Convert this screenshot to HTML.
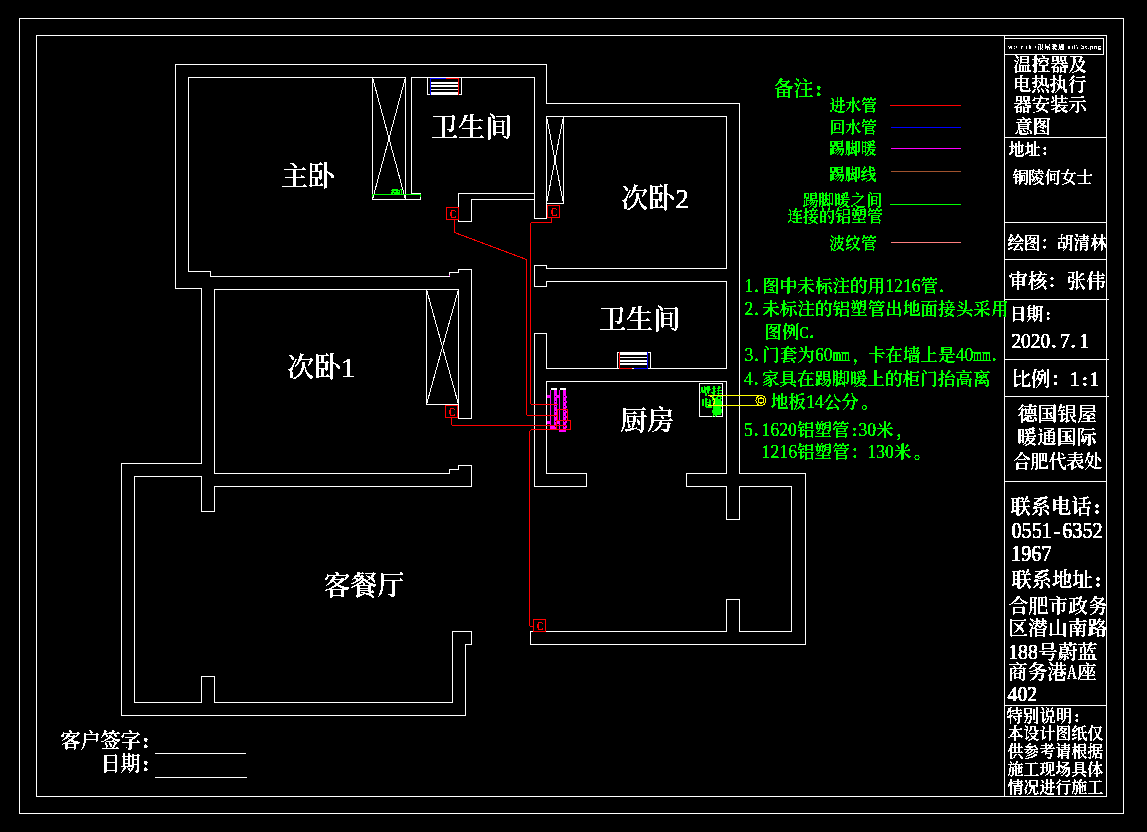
<!DOCTYPE html>
<html lang="zh"><head><meta charset="utf-8"><title>温控器及电热执行器安装示意图</title>
<style>
html,body{margin:0;padding:0;background:#000;overflow:hidden}
svg{display:block}
svg polyline,svg polygon{fill:none;stroke-width:1;stroke-linecap:square}
svg text{font-family:"Liberation Serif","Noto Serif CJK SC",serif;white-space:pre}
</style></head><body>
<svg width="1147" height="832" viewBox="0 0 1147 832" shape-rendering="crispEdges">
<rect x="0" y="0" width="1147" height="832" fill="#000"/>
<g fill="none" stroke-width="1">
<polygon points="19.5,18.5 1123.5,18.5 1123.5,813.5 19.5,813.5" stroke="#ffffff" />
<polygon points="36.5,35.5 1106.5,35.5 1106.5,796.5 36.5,796.5" stroke="#ffffff" />
<polyline points="411.5,77.5 534.5,77.5 534.5,218.5 546.5,218.5 546.5,116.5 726.5,116.5 726.5,268.5 546.5,268.5 546.5,265.5 534.5,265.5 534.5,286.5 546.5,286.5 546.5,281.5 726.5,281.5 726.5,368.5 546.5,368.5 546.5,333.5 534.5,333.5 534.5,486.5 586.5,486.5 586.5,473.5 546.5,473.5 546.5,381.5 726.5,381.5 726.5,473.5 686.5,473.5 686.5,486.5 726.5,486.5 726.5,519.5 739.5,519.5 739.5,486.5 791.5,486.5 791.5,631.5 739.5,631.5 739.5,599.5 726.5,599.5 726.5,631.5 530.5,631.5 530.5,644.5 805.5,644.5 805.5,473.5 739.5,473.5 739.5,103.5 546.5,103.5 546.5,64.5 175.5,64.5 175.5,288.5 201.5,288.5 201.5,463.5 121.5,463.5 121.5,715.5 465.5,715.5 465.5,644.5 471.5,644.5 471.5,631.5 452.5,631.5 452.5,702.5 214.5,702.5 214.5,676.5 201.5,676.5 201.5,702.5 134.5,702.5 134.5,476.5 201.5,476.5 201.5,511.5 214.5,511.5 214.5,486.5 471.5,486.5 471.5,465.5 458.5,465.5 458.5,469.5 449.5,469.5 449.5,473.5 214.5,473.5 214.5,289.5 458.5,289.5 458.5,418.5 471.5,418.5 471.5,269.5 458.5,269.5 458.5,272.5 449.5,272.5 449.5,276.5 210.5,276.5 210.5,271.5 188.5,271.5 188.5,77.5 405.5,77.5 405.5,199.5" stroke="#ffffff" />
<polyline points="411.5,77.5 411.5,193.5 420.5,193.5 420.5,199.5 372.5,199.5 372.5,77.5" stroke="#ffffff" />
<polyline points="534.5,193.5 458.5,193.5 458.5,221.5 471.5,221.5 471.5,199.5 534.5,199.5" stroke="#ffffff" />
<polyline points="372.5,77.5 405.5,199.5" stroke="#ffffff" />
<polyline points="405.5,77.5 372.5,199.5" stroke="#ffffff" />
<polyline points="563.5,116.5 563.5,203.5 546.5,203.5" stroke="#ffffff" />
<polyline points="546.5,116.5 563.5,203.5" stroke="#ffffff" />
<polyline points="563.5,116.5 546.5,203.5" stroke="#ffffff" />
<polyline points="426.5,289.5 426.5,404.5 458.5,404.5" stroke="#ffffff" />
<polyline points="426.5,289.5 458.5,404.5" stroke="#ffffff" />
<polyline points="458.5,289.5 426.5,404.5" stroke="#ffffff" />
<polyline points="372.5,196.5 372.5,194.5 420.5,194.5 420.5,196.5" stroke="#00ff00" />
<!--T880-->
<rect x="449" y="275" width="1" height="1" fill="#ff00ff" stroke="none"/>
<polyline points="427.5,77.5 427.5,94.5 461.5,94.5 461.5,77.5" stroke="#ffffff" />
<rect x="431" y="82" width="27" height="2" fill="#ffffff" stroke="none"/>
<rect x="431" y="85" width="27" height="2" fill="#ffffff" stroke="none"/>
<rect x="431" y="89" width="27" height="1" fill="#ffffff" stroke="none"/>
<rect x="431" y="92" width="27" height="3" fill="#ffffff" stroke="none"/>
<polyline points="430.5,78.5 430.5,94.5" stroke="#0000ff" />
<polyline points="458.5,78.5 458.5,94.5" stroke="#ff0000" />
<polyline points="431.5,78.5 445.5,78.5" stroke="#0000ff" />
<polyline points="446.5,78.5 458.5,78.5" stroke="#ff0000" />
<polyline points="617.5,368.5 617.5,352.5 650.5,352.5 650.5,368.5" stroke="#ffffff" />
<rect x="620" y="352" width="27" height="3" fill="#ffffff" stroke="none"/>
<rect x="620" y="357" width="27" height="1" fill="#ffffff" stroke="none"/>
<rect x="620" y="360" width="27" height="2" fill="#ffffff" stroke="none"/>
<rect x="620" y="363" width="27" height="2" fill="#ffffff" stroke="none"/>
<polyline points="619.5,352.5 619.5,368.5" stroke="#ff0000" />
<polyline points="647.5,352.5 647.5,368.5" stroke="#0000ff" />
<polyline points="619.5,368.5 631.5,368.5" stroke="#ff0000" />
<polyline points="634.5,368.5 647.5,368.5" stroke="#0000ff" />
<rect x="550" y="390" width="1" height="40" fill="#ff00ff" stroke="none"/>
<rect x="554" y="390" width="3" height="40" fill="#ff00ff" stroke="none"/>
<rect x="559" y="390" width="1" height="42" fill="#ff00ff" stroke="none"/>
<rect x="563" y="390" width="3" height="42" fill="#ff00ff" stroke="none"/>
<rect x="551" y="388" width="6" height="2" fill="#ffffff" stroke="none"/>
<rect x="560" y="388" width="6" height="2" fill="#ffffff" stroke="none"/>
<rect x="547" y="395" width="3" height="3" fill="#ff00ff" stroke="none"/>
<rect x="547" y="421" width="3" height="3" fill="#ff00ff" stroke="none"/>
<rect x="557" y="395" width="2" height="3" fill="#ff00ff" stroke="none"/>
<rect x="557" y="421" width="2" height="3" fill="#ff00ff" stroke="none"/>
<rect x="566" y="396" width="1" height="2" fill="#ff00ff" stroke="none"/>
<rect x="566" y="401" width="1" height="2" fill="#ff00ff" stroke="none"/>
<rect x="566" y="406" width="1" height="2" fill="#ff00ff" stroke="none"/>
<rect x="566" y="411" width="1" height="2" fill="#ff00ff" stroke="none"/>
<rect x="566" y="416" width="1" height="2" fill="#ff00ff" stroke="none"/>
<rect x="566" y="421" width="1" height="2" fill="#ff00ff" stroke="none"/>
<rect x="566" y="426" width="1" height="2" fill="#ff00ff" stroke="none"/>
<rect x="551" y="426" width="3" height="4" fill="#ff00ff" stroke="none"/>
<rect x="560" y="429" width="3" height="3" fill="#ff00ff" stroke="none"/>
<rect x="555" y="396" width="1" height="1" fill="#000" stroke="none"/>
<rect x="564" y="396" width="1" height="1" fill="#000" stroke="none"/>
<rect x="555" y="401" width="1" height="1" fill="#000" stroke="none"/>
<rect x="564" y="401" width="1" height="1" fill="#000" stroke="none"/>
<rect x="555" y="406" width="1" height="1" fill="#000" stroke="none"/>
<rect x="564" y="406" width="1" height="1" fill="#000" stroke="none"/>
<rect x="555" y="411" width="1" height="1" fill="#000" stroke="none"/>
<rect x="564" y="411" width="1" height="1" fill="#000" stroke="none"/>
<rect x="555" y="416" width="1" height="1" fill="#000" stroke="none"/>
<rect x="564" y="416" width="1" height="1" fill="#000" stroke="none"/>
<rect x="555" y="421" width="1" height="1" fill="#000" stroke="none"/>
<rect x="564" y="421" width="1" height="1" fill="#000" stroke="none"/>
<rect x="555" y="426" width="1" height="1" fill="#000" stroke="none"/>
<rect x="564" y="426" width="1" height="1" fill="#000" stroke="none"/>
<rect x="699.5" y="383.5" width="23" height="33" rx="1" ry="1" stroke="#fff" fill="none"/>
<rect x="714" y="399" width="7" height="16" fill="#00ff00" stroke="none"/>
<!--TBOILER-->

<polyline points="454.5,219.5 454.5,232.5 526.5,259.5 526.5,414.5 527.5,415.5 556.5,415.5" stroke="#ff0000" />
<polyline points="551.5,217.5 551.5,222.5 531.5,222.5 530.5,223.5 530.5,403.5 531.5,404.5 557.5,404.5" stroke="#ff0000" />
<polyline points="451.5,417.5 451.5,424.5 452.5,425.5 566.5,425.5" stroke="#ff0000" />
<polyline points="570.5,429.5 531.5,429.5 529.5,431.5 529.5,625.5 530.5,626.5 533.5,626.5" stroke="#ff0000" />
<polygon points="557.5,409.5 567.5,409.5 567.5,420.5 557.5,420.5" stroke="#ff0000" />
<polygon points="556.5,420.5 570.5,420.5 570.5,429.5 556.5,429.5" stroke="#ff0000" />
<polygon points="446.5,207.5 458.5,207.5 458.5,219.5 446.5,219.5" stroke="#ff0000" />
<polygon points="547.5,205.5 559.5,205.5 559.5,217.5 547.5,217.5" stroke="#ff0000" />
<polygon points="445.5,405.5 457.5,405.5 457.5,417.5 445.5,417.5" stroke="#ff0000" />
<polygon points="533.5,619.5 545.5,619.5 545.5,631.5 533.5,631.5" stroke="#ff0000" />
<polyline points="890.5,105.5 960.5,105.5" stroke="#ff0000" />
<polyline points="891.5,127.5 960.5,127.5" stroke="#0000ff" />
<polyline points="891.5,148.5 960.5,148.5" stroke="#ff00ff" />
<polyline points="891.5,171.5 960.5,171.5" stroke="#a0522d" />
<polyline points="890.5,204.5 960.5,204.5" stroke="#00ff00" />
<polyline points="891.5,242.5 960.5,242.5" stroke="#ff7f7f" />
<polyline points="1004.5,35.5 1004.5,796.5" stroke="#ffffff" />
<polyline points="1004.5,137.5 1106.5,137.5" stroke="#ffffff" />
<polyline points="1004.5,222.5 1106.5,222.5" stroke="#ffffff" />
<polyline points="1004.5,259.5 1106.5,259.5" stroke="#ffffff" />
<polyline points="1004.5,299.5 1108.5,299.5" stroke="#ffffff" />
<polyline points="1004.5,359.5 1108.5,359.5" stroke="#ffffff" />
<polyline points="1004.5,396.5 1108.5,396.5" stroke="#ffffff" />
<polyline points="1004.5,481.5 1106.5,481.5" stroke="#ffffff" />
<polyline points="1004.5,705.5 1106.5,705.5" stroke="#ffffff" />
<polygon points="1004.5,38.5 1103.5,38.5 1103.5,54.5 1004.5,54.5" stroke="#ffffff" />
<polyline points="155.5,753.5 245.5,753.5" stroke="#ffffff" />
<polyline points="155.5,777.5 246.5,777.5" stroke="#ffffff" />
</g>
<defs><filter id="th" x="0" y="0" width="1147" height="832" filterUnits="userSpaceOnUse" color-interpolation-filters="sRGB"><feComponentTransfer><feFuncA type="discrete" tableValues="0 1 1"/></feComponentTransfer></filter></defs>
<g filter="url(#th)">
<text id="t0" x="281.06 308.06" y="186.49" font-size="27.00" fill="#ffffff" font-weight="500">主卧</text>
<text id="t1" x="431.19 458.19 485.19" y="137.36" font-size="27.00" fill="#ffffff" font-weight="500">卫生间</text>
<text id="t2" x="621.19 648.19 675.19" y="208.11" font-size="27.00" fill="#ffffff" font-weight="500">次卧<tspan font-weight="400" stroke="#ffffff" stroke-width="0.25">2</tspan></text>
<text id="t3" x="287.19 314.19 341.19" y="377.11" font-size="27.00" fill="#ffffff" font-weight="500">次卧<tspan font-weight="400" stroke="#ffffff" stroke-width="0.25">1</tspan></text>
<text id="t4" x="599.19 626.19 653.19" y="329.36" font-size="27.00" fill="#ffffff" font-weight="500">卫生间</text>
<text id="t5" x="620.32 647.32" y="429.61" font-size="27.00" fill="#ffffff" font-weight="500">厨房</text>
<text id="t6" x="323.44 350.44 377.44" y="594.61" font-size="27.00" fill="#ffffff" font-weight="500">客餐厅</text>
<text id="t7" x="60.40 80.40 100.40 120.40 142.62" y="748.48" font-size="20.00" fill="#ffffff" font-weight="600">客户签字:</text>
<text id="t8" x="100.40 120.40 142.62" y="770.98" font-size="20.00" fill="#ffffff" font-weight="600">日期:</text>
<text id="t9" x="1013.32 1031.72 1050.12 1068.52" y="70.96" font-size="18.40" fill="#ffffff" font-weight="600">温控器及</text>
<text id="t10" x="1012.82 1031.22 1049.62 1068.02" y="90.96" font-size="18.40" fill="#ffffff" font-weight="600">电热执行</text>
<text id="t11" x="1013.32 1031.72 1050.12 1068.52" y="111.46" font-size="18.40" fill="#ffffff" font-weight="600">器安装示</text>
<text id="t12" x="1014.45 1032.85" y="132.84" font-size="18.40" fill="#ffffff" font-weight="600">意图</text>
<text id="t13" x="1008.52 1024.52 1042.30" y="154.75" font-size="16.00" fill="#ffffff" font-weight="600">地址:</text>
<text id="t14" x="1012.39 1028.49 1044.59 1060.69 1076.79" y="183.00" font-size="16.10" fill="#ffffff" font-weight="600">铜陵何女士</text>
<text id="t15" x="1007.38 1023.93 1040.48 1057.03 1073.58 1090.13" y="249.47" font-size="16.55" fill="#ffffff" font-weight="600">绘图：胡清林</text>
<text id="t16" x="1008.54 1027.94 1047.34 1066.74 1086.14" y="288.14" font-size="19.40" fill="#ffffff" font-weight="600">审核：张伟</text>
<text id="t17" x="1009.49 1026.49 1045.38" y="319.81" font-size="17.00" fill="#ffffff" font-weight="600">日期:</text>
<text id="t18" x="1011.42 1021.12 1030.82 1040.52 1051.38 1059.92 1070.78 1079.32" y="348.14" font-size="19.40" fill="#ffffff" font-weight="600"><tspan font-weight="400" stroke="#ffffff" stroke-width="0.25" font-size="21.53" textLength="9.70" lengthAdjust="spacingAndGlyphs">2</tspan><tspan font-weight="400" stroke="#ffffff" stroke-width="0.25" font-size="21.53" textLength="9.70" lengthAdjust="spacingAndGlyphs">0</tspan><tspan font-weight="400" stroke="#ffffff" stroke-width="0.25" font-size="21.53" textLength="9.70" lengthAdjust="spacingAndGlyphs">2</tspan><tspan font-weight="400" stroke="#ffffff" stroke-width="0.25" font-size="21.53" textLength="9.70" lengthAdjust="spacingAndGlyphs">0</tspan>.<tspan font-weight="400" stroke="#ffffff" stroke-width="0.25" font-size="21.53" textLength="9.70" lengthAdjust="spacingAndGlyphs">7</tspan>.<tspan font-weight="400" stroke="#ffffff" stroke-width="0.25" font-size="21.53" textLength="9.70" lengthAdjust="spacingAndGlyphs">1</tspan></text>
<text id="t19" x="1011.41 1030.91 1050.41 1069.91 1081.83 1089.41" y="386.13" font-size="19.50" fill="#ffffff" font-weight="600">比例：<tspan font-weight="400" stroke="#ffffff" stroke-width="0.25" font-size="21.65" textLength="9.75" lengthAdjust="spacingAndGlyphs">1</tspan>:<tspan font-weight="400" stroke="#ffffff" stroke-width="0.25" font-size="21.65" textLength="9.75" lengthAdjust="spacingAndGlyphs">1</tspan></text>
<text id="t20" x="1017.65 1037.50 1057.35 1077.20" y="420.86" font-size="19.85" fill="#ffffff" font-weight="600">德国银屋</text>
<text id="t21" x="1017.15 1037.00 1056.85 1076.70" y="443.86" font-size="19.85" fill="#ffffff" font-weight="600">暖通国际</text>
<text id="t22" x="1012.96 1030.81 1048.66 1066.51 1084.36" y="467.50" font-size="17.85" fill="#ffffff" font-weight="600">合肥代表处</text>
<text id="t23" x="1010.39 1030.69 1050.99 1071.29 1093.84" y="514.33" font-size="20.30" fill="#ffffff" font-weight="600">联系电话:</text>
<text id="t24" x="1011.39 1021.54 1031.69 1041.84 1053.69 1062.14 1072.29 1082.44 1092.59" y="537.58" font-size="20.30" fill="#ffffff" font-weight="600"><tspan font-weight="400" stroke="#ffffff" stroke-width="0.25" font-size="22.53" textLength="10.15" lengthAdjust="spacingAndGlyphs">0</tspan><tspan font-weight="400" stroke="#ffffff" stroke-width="0.25" font-size="22.53" textLength="10.15" lengthAdjust="spacingAndGlyphs">5</tspan><tspan font-weight="400" stroke="#ffffff" stroke-width="0.25" font-size="22.53" textLength="10.15" lengthAdjust="spacingAndGlyphs">5</tspan><tspan font-weight="400" stroke="#ffffff" stroke-width="0.25" font-size="22.53" textLength="10.15" lengthAdjust="spacingAndGlyphs">1</tspan>-<tspan font-weight="400" stroke="#ffffff" stroke-width="0.25" font-size="22.53" textLength="10.15" lengthAdjust="spacingAndGlyphs">6</tspan><tspan font-weight="400" stroke="#ffffff" stroke-width="0.25" font-size="22.53" textLength="10.15" lengthAdjust="spacingAndGlyphs">3</tspan><tspan font-weight="400" stroke="#ffffff" stroke-width="0.25" font-size="22.53" textLength="10.15" lengthAdjust="spacingAndGlyphs">5</tspan><tspan font-weight="400" stroke="#ffffff" stroke-width="0.25" font-size="22.53" textLength="10.15" lengthAdjust="spacingAndGlyphs">2</tspan></text>
<text id="t25" x="1011.02 1021.17 1031.32 1041.47" y="561.33" font-size="20.30" fill="#ffffff" font-weight="600"><tspan font-weight="400" stroke="#ffffff" stroke-width="0.25" font-size="22.53" textLength="10.15" lengthAdjust="spacingAndGlyphs">1</tspan><tspan font-weight="400" stroke="#ffffff" stroke-width="0.25" font-size="22.53" textLength="10.15" lengthAdjust="spacingAndGlyphs">9</tspan><tspan font-weight="400" stroke="#ffffff" stroke-width="0.25" font-size="22.53" textLength="10.15" lengthAdjust="spacingAndGlyphs">6</tspan><tspan font-weight="400" stroke="#ffffff" stroke-width="0.25" font-size="22.53" textLength="10.15" lengthAdjust="spacingAndGlyphs">7</tspan></text>
<text id="t26" x="1011.39 1031.69 1051.99 1072.29 1094.84" y="586.58" font-size="20.30" fill="#ffffff" font-weight="600">联系地址:</text>
<text id="t27" x="1008.78 1028.58 1048.38 1068.18 1087.98" y="613.11" font-size="19.80" fill="#ffffff" font-weight="600">合肥市政务</text>
<text id="t28" x="1008.28 1028.08 1047.88 1067.68 1087.48" y="635.49" font-size="19.80" fill="#ffffff" font-weight="600">区潜山南路</text>
<text id="t29" x="1008.16 1018.06 1027.96 1037.86 1057.66 1077.46" y="658.61" font-size="19.80" fill="#ffffff" font-weight="600"><tspan font-weight="400" stroke="#ffffff" stroke-width="0.25" font-size="21.98" textLength="9.90" lengthAdjust="spacingAndGlyphs">1</tspan><tspan font-weight="400" stroke="#ffffff" stroke-width="0.25" font-size="21.98" textLength="9.90" lengthAdjust="spacingAndGlyphs">8</tspan><tspan font-weight="400" stroke="#ffffff" stroke-width="0.25" font-size="21.98" textLength="9.90" lengthAdjust="spacingAndGlyphs">8</tspan>号蔚蓝</text>
<text id="t30" x="1007.66 1027.46 1047.26 1067.06 1076.96" y="678.86" font-size="19.80" fill="#ffffff" font-weight="600">商务港<tspan font-weight="400" stroke="#ffffff" stroke-width="0.25" font-size="21.98" textLength="9.90" lengthAdjust="spacingAndGlyphs">A</tspan>座</text>
<text id="t31" x="1007.53 1017.43 1027.33" y="700.86" font-size="19.80" fill="#ffffff" font-weight="600"><tspan font-weight="400" stroke="#ffffff" stroke-width="0.25" font-size="21.98" textLength="9.90" lengthAdjust="spacingAndGlyphs">4</tspan><tspan font-weight="400" stroke="#ffffff" stroke-width="0.25" font-size="21.98" textLength="9.90" lengthAdjust="spacingAndGlyphs">0</tspan><tspan font-weight="400" stroke="#ffffff" stroke-width="0.25" font-size="21.98" textLength="9.90" lengthAdjust="spacingAndGlyphs">2</tspan></text>
<text id="t32" x="1006.50 1023.00 1039.51 1056.01 1074.34" y="721.60" font-size="16.50" fill="#ffffff" font-weight="600">特别说明:</text>
<text id="t33" x="1007.40 1023.35 1039.30 1055.25 1071.20 1087.15" y="739.13" font-size="15.95" fill="#ffffff" font-weight="600">本设计图纸仅</text>
<text id="t34" x="1007.40 1023.35 1039.30 1055.25 1071.20 1087.15" y="757.38" font-size="15.95" fill="#ffffff" font-weight="600">供参考请根据</text>
<text id="t35" x="1007.40 1023.35 1039.30 1055.25 1071.20 1087.15" y="775.38" font-size="15.95" fill="#ffffff" font-weight="600">施工现场具体</text>
<text id="t36" x="1007.40 1023.35 1039.30 1055.25 1071.20 1087.15" y="793.38" font-size="15.95" fill="#ffffff" font-weight="600">情况进行施工</text>
<text id="t37" x="773.40 793.40 815.62" y="95.97" font-size="20.00" fill="#00ff00" font-weight="600">备注:</text>
<text id="t38" x="829.40 845.35 861.30" y="111.38" font-size="15.95" fill="#00ff00" font-weight="600">进水管</text>
<text id="t39" x="829.20 845.15 861.10" y="133.38" font-size="15.95" fill="#00ff00" font-weight="600">回水管</text>
<text id="t40" x="828.90 844.85 860.80" y="154.38" font-size="15.95" fill="#00ff00" font-weight="600">踢脚暖</text>
<text id="t41" x="828.90 844.85 860.80" y="179.76" font-size="15.95" fill="#00ff00" font-weight="600">踢脚线</text>
<text id="t42" x="802.40 818.35 834.30 850.25 866.20" y="206.38" font-size="15.95" fill="#00ff00" font-weight="600">踢脚暖之间</text>
<text id="t43" x="787.15 803.10 819.05 835.00 850.95 866.90" y="222.38" font-size="15.95" fill="#00ff00" font-weight="600">连接的铝塑管</text>
<text id="t44" x="829.02 844.97 860.92" y="249.38" font-size="15.95" fill="#00ff00" font-weight="600">波纹管</text>
<text id="t45" x="744.50 754.36 762.10 779.70 797.30 814.90 832.50 850.10 867.70 885.30 894.10 902.90 911.70 920.50 939.16" y="292.39" font-size="17.60" fill="#00ff00" font-weight="600"><tspan font-weight="400" stroke="#00ff00" stroke-width="0.10" font-size="19.54" textLength="8.80" lengthAdjust="spacingAndGlyphs">1</tspan>.图中未标注的用<tspan font-weight="400" stroke="#00ff00" stroke-width="0.10" font-size="19.54" textLength="8.80" lengthAdjust="spacingAndGlyphs">1</tspan><tspan font-weight="400" stroke="#00ff00" stroke-width="0.10" font-size="19.54" textLength="8.80" lengthAdjust="spacingAndGlyphs">2</tspan><tspan font-weight="400" stroke="#00ff00" stroke-width="0.10" font-size="19.54" textLength="8.80" lengthAdjust="spacingAndGlyphs">1</tspan><tspan font-weight="400" stroke="#00ff00" stroke-width="0.10" font-size="19.54" textLength="8.80" lengthAdjust="spacingAndGlyphs">6</tspan>管.</text>
<text id="t46" x="744.50 754.36 762.10 779.70 797.30 814.90 832.50 850.10 867.70 885.30 902.90 920.50 938.10 955.70 973.30 990.90" y="315.39" font-size="17.60" fill="#00ff00" font-weight="600"><tspan font-weight="400" stroke="#00ff00" stroke-width="0.10" font-size="19.54" textLength="8.80" lengthAdjust="spacingAndGlyphs">2</tspan>.未标注的铝塑管出地面接头采用</text>
<text id="t47" x="764.40 782.00 799.60 809.46" y="338.14" font-size="17.60" fill="#00ff00" font-weight="600">图例<tspan font-weight="400" stroke="#00ff00" stroke-width="0.10" font-size="17.60" textLength="8.80" lengthAdjust="spacingAndGlyphs">C</tspan>.</text>
<text id="t48" x="744.50 754.36 762.10 779.70 797.30 814.90 823.70 832.50 841.30 852.56 867.70 885.30 902.90 920.50 938.10 955.70 964.50 973.30 982.10 991.96" y="361.14" font-size="17.60" fill="#00ff00" font-weight="600"><tspan font-weight="400" stroke="#00ff00" stroke-width="0.10" font-size="19.54" textLength="8.80" lengthAdjust="spacingAndGlyphs">3</tspan>.门套为<tspan font-weight="400" stroke="#00ff00" stroke-width="0.10" font-size="19.54" textLength="8.80" lengthAdjust="spacingAndGlyphs">6</tspan><tspan font-weight="400" stroke="#00ff00" stroke-width="0.10" font-size="19.54" textLength="8.80" lengthAdjust="spacingAndGlyphs">0</tspan><tspan font-weight="400" stroke="#00ff00" stroke-width="0.10" font-size="19.54" textLength="8.80" lengthAdjust="spacingAndGlyphs">m</tspan><tspan font-weight="400" stroke="#00ff00" stroke-width="0.10" font-size="19.54" textLength="8.80" lengthAdjust="spacingAndGlyphs">m</tspan>，卡在墙上是<tspan font-weight="400" stroke="#00ff00" stroke-width="0.10" font-size="19.54" textLength="8.80" lengthAdjust="spacingAndGlyphs">4</tspan><tspan font-weight="400" stroke="#00ff00" stroke-width="0.10" font-size="19.54" textLength="8.80" lengthAdjust="spacingAndGlyphs">0</tspan><tspan font-weight="400" stroke="#00ff00" stroke-width="0.10" font-size="19.54" textLength="8.80" lengthAdjust="spacingAndGlyphs">m</tspan><tspan font-weight="400" stroke="#00ff00" stroke-width="0.10" font-size="19.54" textLength="8.80" lengthAdjust="spacingAndGlyphs">m</tspan>.</text>
<text id="t49" x="744.10 753.96 761.70 779.30 796.90 814.50 832.10 849.70 867.30 884.90 902.50 920.10 937.70 955.30 972.90" y="385.27" font-size="17.60" fill="#00ff00" font-weight="600"><tspan font-weight="400" stroke="#00ff00" stroke-width="0.10" font-size="19.54" textLength="8.80" lengthAdjust="spacingAndGlyphs">4</tspan>.家具在踢脚暖上的柜门抬高离</text>
<text id="t50" x="770.70 788.30 805.90 814.70 823.50 841.10 860.99" y="408.39" font-size="17.60" fill="#00ff00" font-weight="600">地板<tspan font-weight="400" stroke="#00ff00" stroke-width="0.10" font-size="19.54" textLength="8.80" lengthAdjust="spacingAndGlyphs">1</tspan><tspan font-weight="400" stroke="#00ff00" stroke-width="0.10" font-size="19.54" textLength="8.80" lengthAdjust="spacingAndGlyphs">4</tspan>公分。</text>
<text id="t51" x="744.10 753.96 761.70 770.50 779.30 788.10 796.90 814.50 832.10 851.65 858.50 867.30 876.10 896.16" y="436.02" font-size="17.60" fill="#00ff00" font-weight="600"><tspan font-weight="400" stroke="#00ff00" stroke-width="0.10" font-size="19.54" textLength="8.80" lengthAdjust="spacingAndGlyphs">5</tspan>.<tspan font-weight="400" stroke="#00ff00" stroke-width="0.10" font-size="19.54" textLength="8.80" lengthAdjust="spacingAndGlyphs">1</tspan><tspan font-weight="400" stroke="#00ff00" stroke-width="0.10" font-size="19.54" textLength="8.80" lengthAdjust="spacingAndGlyphs">6</tspan><tspan font-weight="400" stroke="#00ff00" stroke-width="0.10" font-size="19.54" textLength="8.80" lengthAdjust="spacingAndGlyphs">2</tspan><tspan font-weight="400" stroke="#00ff00" stroke-width="0.10" font-size="19.54" textLength="8.80" lengthAdjust="spacingAndGlyphs">0</tspan>铝塑管:<tspan font-weight="400" stroke="#00ff00" stroke-width="0.10" font-size="19.54" textLength="8.80" lengthAdjust="spacingAndGlyphs">3</tspan><tspan font-weight="400" stroke="#00ff00" stroke-width="0.10" font-size="19.54" textLength="8.80" lengthAdjust="spacingAndGlyphs">0</tspan>米，</text>
<text id="t52" x="761.80 770.60 779.40 788.20 797.00 814.60 832.20 850.50 867.40 876.20 885.00 893.80 913.69" y="458.02" font-size="17.60" fill="#00ff00" font-weight="600"><tspan font-weight="400" stroke="#00ff00" stroke-width="0.10" font-size="19.54" textLength="8.80" lengthAdjust="spacingAndGlyphs">1</tspan><tspan font-weight="400" stroke="#00ff00" stroke-width="0.10" font-size="19.54" textLength="8.80" lengthAdjust="spacingAndGlyphs">2</tspan><tspan font-weight="400" stroke="#00ff00" stroke-width="0.10" font-size="19.54" textLength="8.80" lengthAdjust="spacingAndGlyphs">1</tspan><tspan font-weight="400" stroke="#00ff00" stroke-width="0.10" font-size="19.54" textLength="8.80" lengthAdjust="spacingAndGlyphs">6</tspan>铝塑管：<tspan font-weight="400" stroke="#00ff00" stroke-width="0.10" font-size="19.54" textLength="8.80" lengthAdjust="spacingAndGlyphs">1</tspan><tspan font-weight="400" stroke="#00ff00" stroke-width="0.10" font-size="19.54" textLength="8.80" lengthAdjust="spacingAndGlyphs">3</tspan><tspan font-weight="400" stroke="#00ff00" stroke-width="0.10" font-size="19.54" textLength="8.80" lengthAdjust="spacingAndGlyphs">0</tspan>米。</text>
<text x="449.8" y="218.2" font-size="12.5" fill="#ff0000" font-weight="700"><tspan textLength="6.6" lengthAdjust="spacingAndGlyphs">C</tspan></text>
<text x="550.8" y="216.2" font-size="12.5" fill="#ff0000" font-weight="700"><tspan textLength="6.6" lengthAdjust="spacingAndGlyphs">C</tspan></text>
<text x="448.8" y="416.2" font-size="12.5" fill="#ff0000" font-weight="700"><tspan textLength="6.6" lengthAdjust="spacingAndGlyphs">C</tspan></text>
<text x="536.8" y="630.2" font-size="12.5" fill="#ff0000" font-weight="700"><tspan textLength="6.6" lengthAdjust="spacingAndGlyphs">C</tspan></text>
<text x="391.2" y="194.6" font-size="7.6" fill="#00ff00" font-weight="700" textLength="11.5" lengthAdjust="spacingAndGlyphs">880</text>
<text x="700.3" y="395.8" font-size="11" fill="#00ff00" font-weight="900">壁挂</text>
<text x="701.5" y="406.5" font-size="10.5" fill="#00ff00" font-weight="900">电</text>
<text x="711.8" y="406.3" font-size="10.5" fill="#00ff00" font-weight="900">锅</text>
<text x="711.8" y="415.8" font-size="10.5" fill="#00ff00" font-weight="900">炉</text>
<text x="1008" y="49.3" font-size="6.2" fill="#ffffff" font-family="'Liberation Sans','Noto Sans CJK SC',sans-serif" textLength="93">w:\ r th /银屋暖通 eil\ ht.png</text>
</g>
<g fill="none" stroke-width="1">

<polyline points="708.5,395.5 761.5,395.5" stroke="#ffff00" />
<polyline points="708.5,405.5 761.5,405.5" stroke="#ffff00" />
<polyline points="708.5,395.5 711.5,396.5 713.5,398.5 714.5,400.5 714.5,402.5 713.5,404.5 712.5,405.5" stroke="#ffff00" />
<circle cx="761" cy="400.5" r="5" stroke="#ffff00" fill="#000"/>
<circle cx="761" cy="400.5" r="2.6" stroke="#ffff00" fill="none"/>

</g>
</svg>
</body></html>
